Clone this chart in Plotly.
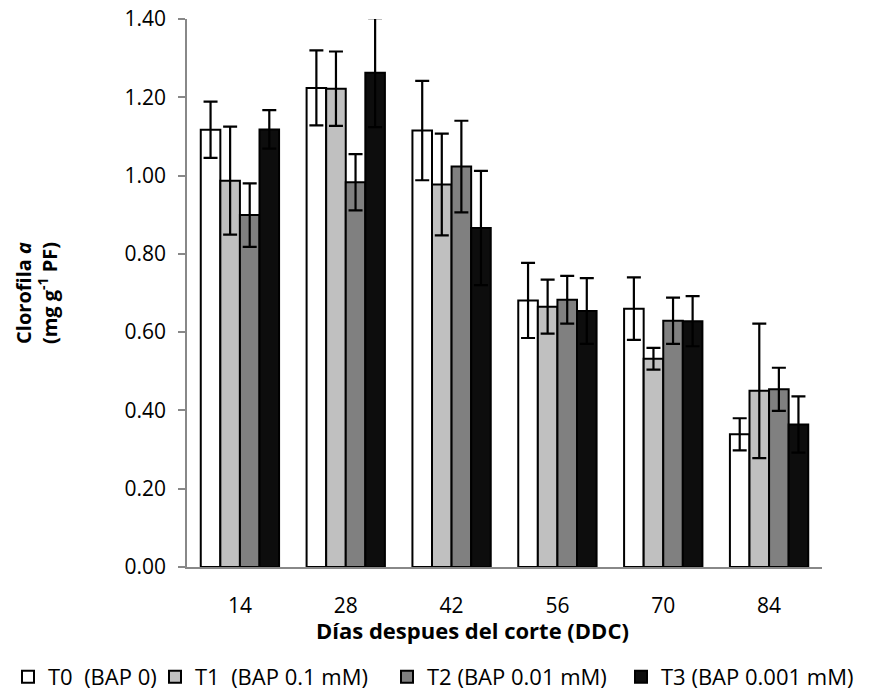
import plotly.graph_objects as go

categories = ["14", "28", "42", "56", "70", "84"]
series_names = ["T0\u00a0\u00a0(BAP 0)", "T1\u00a0\u00a0(BAP 0.1 mM)", "T2 (BAP 0.01 mM)", "T3 (BAP 0.001 mM)"]
t0_vals = [1.117, 1.224, 1.115, 0.681, 0.660, 0.339]
t0_err = [0.072, 0.096, 0.127, 0.096, 0.080, 0.041]
t1_vals = [0.987, 1.222, 0.977, 0.665, 0.532, 0.450]
t1_err = [0.138, 0.095, 0.130, 0.069, 0.028, 0.172]
t2_vals = [0.899, 0.983, 1.023, 0.683, 0.629, 0.454]
t2_err = [0.081, 0.072, 0.117, 0.061, 0.059, 0.055]
t3_vals = [1.118, 1.263, 0.866, 0.654, 0.628, 0.364]
t3_err = [0.049, 0.139, 0.146, 0.084, 0.064, 0.072]
x_title = "<b>Días despues del corte (DDC)</b>"
y_title = "<b>Clorofila <i>a</i></b><br><b>(mg g<sup>-1</sup> PF)</b>"

colors = ["#ffffff", "#c0c0c0", "#808080", "#0d0d0d"]
values = [t0_vals, t1_vals, t2_vals, t3_vals]
errors = [t0_err, t1_err, t2_err, t3_err]

FONT = "Open Sans"
W, H = 863, 686  # page body has an 8px default margin
ML, MR, MT, MB = 179, 49, 11, 127
PW = W - ML - MR

# one single-entry legend per series, laid out in a row below the chart
legend_ids = ["legend", "legend2", "legend3", "legend4"]
legend_left_px = [-12, 147, 379, 613]

fig = go.Figure()
for name, v, e, c, lid in zip(series_names, values, errors, colors, legend_ids):
    fig.add_trace(go.Bar(
        x=categories, y=v, name=name, legend=lid,
        marker=dict(color=c, line=dict(color="#000000", width=2)),
        error_y=dict(type="data", array=e, visible=True, color="#000000",
                     thickness=2.2, width=7),
    ))

legend_style = dict(orientation="h", xref="paper", yref="container",
                    xanchor="left", y=17 / H, yanchor="middle",
                    font=dict(size=22, family=FONT), itemwidth=30,
                    bgcolor="rgba(0,0,0,0)")
layout_legends = {}
for lid, px in zip(legend_ids, legend_left_px):
    layout_legends[lid] = dict(legend_style, x=(px - ML) / PW)

fig.update_layout(
    width=W, height=H,
    margin=dict(l=ML, r=MR, t=MT, b=MB),
    paper_bgcolor="white", plot_bgcolor="white",
    barmode="group", bargap=0.26, bargroupgap=0,
    font=dict(family=FONT, color="#000000", size=20),
    showlegend=True,
    **layout_legends,
)
# x-axis title sits slightly left of the plot centre, as in the original
fig.add_annotation(
    text=x_title, xref="paper", yref="paper", x=(464 - ML) / PW, y=0,
    xanchor="center", yanchor="middle", yshift=-63, showarrow=False,
    font=dict(size=22, family=FONT, color="#000000"),
)
fig.update_xaxes(
    type="category", showline=True, linecolor="#888888", linewidth=1.5,
    ticks="", showgrid=False, tickfont=dict(size=21, family=FONT),
    ticklabelstandoff=19, automargin=False, ticklabeloverflow="allow",
)
fig.update_yaxes(
    range=[0, 1.4], dtick=0.2, tickformat=".2f",
    showline=True, linecolor="#888888", linewidth=1.5,
    ticks="outside", ticklen=7, tickcolor="#888888", tickwidth=1.5,
    showgrid=False, zeroline=False, tickfont=dict(size=21, family=FONT),
    ticklabelstandoff=8, automargin=False, ticklabeloverflow="allow",
    title=dict(text=y_title, font=dict(size=20, family=FONT), standoff=62),
)

fig.write_html("out.html")
